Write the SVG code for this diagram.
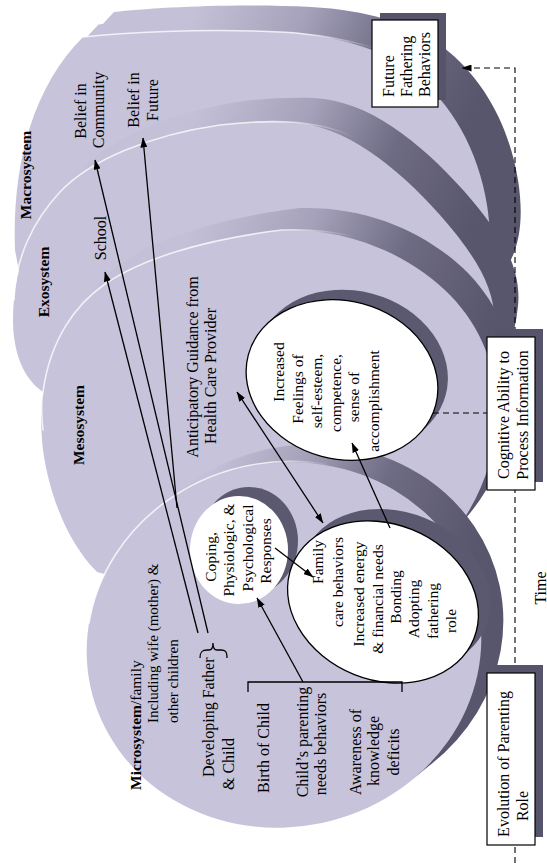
<svg xmlns="http://www.w3.org/2000/svg" width="547" height="863" viewBox="0 0 547 863">
<style>
text{font-family:"Liberation Serif","Times New Roman",serif;font-size:15.5px;fill:#000}
.b{font-weight:bold}
.c{text-anchor:middle;dominant-baseline:central}
.s{text-anchor:start;dominant-baseline:central}
.ln{stroke:#000;stroke-width:1.3;fill:none}
.hl{fill:none;stroke:#fff;stroke-width:1.6;stroke-linecap:round;opacity:.85}
.face{fill:#c6c3db}
.box{fill:#fff;stroke:#000;stroke-width:1.2}
.shd{fill:#56546b}
.dash{stroke:#000;stroke-width:1.1;stroke-dasharray:6 4;fill:none}
.node{fill:#fff}
.nodeb{fill:#fff;stroke:#000;stroke-width:1.3}
.crs{fill:#5b596f}
</style>
<defs>
<path id="fMacro" d="M15,250 C12,170 30,90 83,37 C120,33 200,28 280,32 C335,35 380,48 412,72 C452,103 478,150 487,205 C495,255 485,290 460,310 L30,330 Z"/>
<path id="fExo" d="M43,392 C25,380 13,355 13,320 C13,270 30,225 60,192 C90,160 150,135 220,125 C245,122 270,121 290,122 C345,125 395,165 440,215 C475,255 498,290 494,330 C490,370 475,400 450,420 L150,440 Z"/>
<path id="fMeso" d="M97,572 C70,545 50,500 43,450 C40,420 41,405 43,392 C50,340 75,305 105,284 C140,260 200,240 282,230 C350,228 410,255 450,295 C482,328 498,370 497,415 C496,460 478,505 448,540 L200,600 Z"/>
<ellipse id="fMicro" cx="284" cy="645" rx="198" ry="182" transform="rotate(-12 284 645)"/>
<linearGradient id="gMacro" gradientUnits="userSpaceOnUse" x1="200" y1="0" x2="470" y2="120">
<stop offset="0" stop-color="#c3c0d7"/><stop offset="0.35" stop-color="#a5a1ba"/><stop offset="0.65" stop-color="#6e6b84"/><stop offset="1" stop-color="#58566c"/>
</linearGradient>
<linearGradient id="gExo" gradientUnits="userSpaceOnUse" x1="200" y1="100" x2="470" y2="230">
<stop offset="0" stop-color="#c3c0d7"/><stop offset="0.35" stop-color="#a5a1ba"/><stop offset="0.65" stop-color="#6e6b84"/><stop offset="1" stop-color="#58566c"/>
</linearGradient>
<linearGradient id="gMeso" gradientUnits="userSpaceOnUse" x1="200" y1="210" x2="480" y2="340">
<stop offset="0" stop-color="#c3c0d7"/><stop offset="0.35" stop-color="#a5a1ba"/><stop offset="0.65" stop-color="#6e6b84"/><stop offset="1" stop-color="#58566c"/>
</linearGradient>
<linearGradient id="gMicro" gradientUnits="userSpaceOnUse" x1="220" y1="450" x2="470" y2="560">
<stop offset="0" stop-color="#c3c0d7"/><stop offset="0.3" stop-color="#a5a1ba"/><stop offset="0.6" stop-color="#6e6b84"/><stop offset="1" stop-color="#58566c"/>
</linearGradient>
<linearGradient id="gHl" x1="0" y1="0" x2="1" y2="0">
<stop offset="0" stop-color="#fff" stop-opacity="0.9"/><stop offset="0.75" stop-color="#fff" stop-opacity="0.9"/><stop offset="1" stop-color="#fff" stop-opacity="0"/>
</linearGradient>
<clipPath id="cMacro"><use href="#fMacro" transform="translate(31,-25)"/><use href="#fMacro" transform="translate(15.5,-12.5)"/></clipPath>
<clipPath id="cExo"><use href="#fExo" transform="translate(24,-24)"/><use href="#fExo" transform="translate(12,-12)"/></clipPath>
<clipPath id="cMeso"><use href="#fMeso" transform="translate(18,-22)"/><use href="#fMeso" transform="translate(9,-11)"/></clipPath>
<clipPath id="cMicro"><use href="#fMicro" transform="translate(22,-18)"/><use href="#fMicro" transform="translate(11,-9)"/></clipPath>
<marker id="ah" viewBox="0 0 10 7" refX="9.5" refY="3.5" markerWidth="10" markerHeight="7" markerUnits="userSpaceOnUse" orient="auto-start-reverse"><path d="M0,0 L10,3.5 L0,7 Z" fill="#000"/></marker>
</defs>

<g id="disc-macro">
<rect width="547" height="863" fill="url(#gMacro)" clip-path="url(#cMacro)"/>
<use href="#fMacro" class="face"/>
<path class="hl" stroke="url(#gHl)" style="stroke:url(#gHl)" d="M83,37 C120,33 200,28 280,32 C320,34 350,40 380,50"/>
</g>
<g id="disc-exo">
<rect width="547" height="863" fill="url(#gExo)" clip-path="url(#cExo)"/>
<use href="#fExo" class="face"/>
<path class="hl" style="stroke:url(#gHl)" d="M14,300 C15,260 32,222 60,192 C90,160 150,135 220,125 C245,122 270,121 290,122 C320,124 340,130 355,138"/>
</g>
<g id="disc-meso">
<rect width="547" height="863" fill="url(#gMeso)" clip-path="url(#cMeso)"/>
<use href="#fMeso" class="face"/>
<path class="hl" style="stroke:url(#gHl)" d="M43,430 C41,410 41,400 43,392 C50,340 75,305 105,284 C140,260 200,240 282,230 C310,229 335,232 355,237"/>
</g>
<g id="disc-micro">
<rect width="547" height="863" fill="url(#gMicro)" clip-path="url(#cMicro)"/>
<use href="#fMicro" class="face"/>
<path class="hl" style="stroke:url(#gHl)" d="M89,623 A198,182 -12 0 1 330,465"/>
</g>

<g id="labels">
<text class="c b" transform="translate(25,175) rotate(-90)">Macrosystem</text>
<text class="c b" transform="translate(43,282) rotate(-90)">Exosystem</text>
<text class="c b" transform="translate(78,425) rotate(-90)">Mesosystem</text>
<text class="s" transform="translate(135,790) rotate(-90)"><tspan class="b">Microsystem</tspan>/family</text>
<text class="s" style="font-size:15px" transform="translate(153,723) rotate(-90)">Including wife (mother) &amp;</text>
<text class="s" style="font-size:15px" transform="translate(173,723) rotate(-90)">other children</text>
<text class="s" style="font-size:16px" transform="translate(208,777) rotate(-90)">Developing Father</text>
<text class="s" style="font-size:16px" transform="translate(228,790) rotate(-90)">&amp; Child</text>
<text class="c" style="font-size:16px" transform="translate(263,748) rotate(-90)">Birth of Child</text>
<text class="c" style="font-size:16px" transform="translate(302,742) rotate(-90)">Child’s parenting</text>
<text class="c" style="font-size:16px" transform="translate(320,744) rotate(-90)">needs behaviors</text>
<text class="c" style="font-size:16px" transform="translate(355,752) rotate(-90)">Awareness of</text>
<text class="c" style="font-size:16px" transform="translate(373,751) rotate(-90)">knowledge</text>
<text class="c" style="font-size:16px" transform="translate(393,752) rotate(-90)">deficits</text>
<text class="c" style="font-size:16px" transform="translate(192,367) rotate(-90)">Anticipatory Guidance from</text>
<text class="c" style="font-size:16px" transform="translate(210,376) rotate(-90)">Health Care Provider</text>
<text class="c" style="font-size:16px" transform="translate(100,238) rotate(-90)">School</text>
<text class="c" style="font-size:16px" transform="translate(80,111) rotate(-90)">Belief in</text>
<text class="c" style="font-size:16px" transform="translate(98,110) rotate(-90)">Community</text>
<text class="c" style="font-size:16px" transform="translate(133,100) rotate(-90)">Belief in</text>
<text class="c" style="font-size:16px" transform="translate(152,100) rotate(-90)">Future</text>
<text class="c" style="font-size:16px" transform="translate(540,588) rotate(-90)">Time</text>
</g>

<g id="node-feelings">
<ellipse class="crs" cx="352" cy="370" rx="97" ry="79" transform="rotate(15 352 370)"/>
<ellipse class="nodeb" cx="342" cy="380" rx="97" ry="79" transform="rotate(15 342 380)"/>
<text class="c" transform="translate(278,372) rotate(-90)">Increased</text>
<text class="c" transform="translate(297,389) rotate(-90)">Feelings of</text>
<text class="c" transform="translate(316,391) rotate(-90)">self-esteem,</text>
<text class="c" transform="translate(335,393) rotate(-90)">competence,</text>
<text class="c" transform="translate(353,397) rotate(-90)">sense of</text>
<text class="c" transform="translate(373,401) rotate(-90)">accomplishment</text>
</g>
<g id="node-coping">
<ellipse class="crs" cx="249" cy="541" rx="49" ry="54"/>
<ellipse class="node" cx="239" cy="550" rx="49" ry="54"/>
<text class="c" transform="translate(210,557) rotate(-90)">Coping,</text>
<text class="c" transform="translate(228,550) rotate(-90)">Physiologic, &amp;</text>
<text class="c" transform="translate(247,548) rotate(-90)">Psychological</text>
<text class="c" transform="translate(265,551) rotate(-90)">Responses</text>
</g>
<g id="node-family">
<ellipse class="crs" cx="395" cy="590" rx="98" ry="78" transform="rotate(22 395 590)"/>
<ellipse class="nodeb" cx="383" cy="602" rx="98" ry="78" transform="rotate(22 383 602)"/>
<text class="c" transform="translate(317,562) rotate(-90)">Family</text>
<text class="c" transform="translate(337,582) rotate(-90)">care behaviors</text>
<text class="c" transform="translate(358,594) rotate(-90)">Increased energy</text>
<text class="c" transform="translate(377,599) rotate(-90)">&amp; financial needs</text>
<text class="c" transform="translate(395,597) rotate(-90)">Bonding</text>
<text class="c" transform="translate(413,609) rotate(-90)">Adopting</text>
<text class="c" transform="translate(432,611) rotate(-90)">fathering</text>
<text class="c" transform="translate(450,621) rotate(-90)">role</text>
</g>

<g id="connectors">
<line class="ln" x1="198" y1="633" x2="105" y2="272" marker-end="url(#ah)"/>
<line class="ln" x1="208" y1="633" x2="95" y2="160" marker-end="url(#ah)"/>
<line class="ln" x1="177" y1="508" x2="143" y2="138" marker-end="url(#ah)"/>
<line class="ln" x1="237" y1="392" x2="323" y2="523" marker-start="url(#ah)" marker-end="url(#ah)"/>
<line class="ln" x1="275" y1="548" x2="313" y2="577" marker-end="url(#ah)"/>
<line class="ln" x1="303" y1="682" x2="257" y2="598" marker-end="url(#ah)"/>
<line class="ln" x1="390" y1="528" x2="352" y2="443" marker-end="url(#ah)"/>
<path class="ln" d="M248,692 V682 H402 V692"/>
<path class="ln" stroke-width="1.2" d="M200,658 C200,651 203,650 207,650 L209,650 C212,650 213,647 213,643 C213,647 214,650 217,650 L221,650 C225,650 227,651 227,658"/>
<path class="dash" d="M515,863 V68 H462" marker-end="url(#ah)"/>
<line class="dash" x1="433" y1="413" x2="487" y2="413"/>
</g>

<g id="box-future">
<rect class="shd" x="380" y="13" width="66" height="87"/>
<rect class="box" x="372" y="20" width="66" height="87"/>
<text class="s" style="font-size:16px" transform="translate(388,97) rotate(-90)">Future</text>
<text class="s" style="font-size:16px" transform="translate(406,97) rotate(-90)">Fathering</text>
<text class="s" style="font-size:16px" transform="translate(424,97) rotate(-90)">Behaviors</text>
</g>
<g id="box-cognitive">
<rect class="shd" x="495" y="329" width="48" height="153"/>
<rect class="box" x="487" y="337" width="48" height="153"/>
<text class="c" style="font-size:16px" transform="translate(503,415) rotate(-90)">Cognitive Ability to</text>
<text class="c" style="font-size:16px" transform="translate(522,415) rotate(-90)">Process Information</text>
</g>
<g id="box-evolution">
<rect class="shd" x="495" y="665" width="48" height="172"/>
<rect class="box" x="487" y="673" width="48" height="172"/>
<text class="c" style="font-size:16px" transform="translate(503,764) rotate(-90)">Evolution of Parenting</text>
<text class="c" style="font-size:16px" transform="translate(522,806) rotate(-90)">Role</text>
</g>
</svg>
